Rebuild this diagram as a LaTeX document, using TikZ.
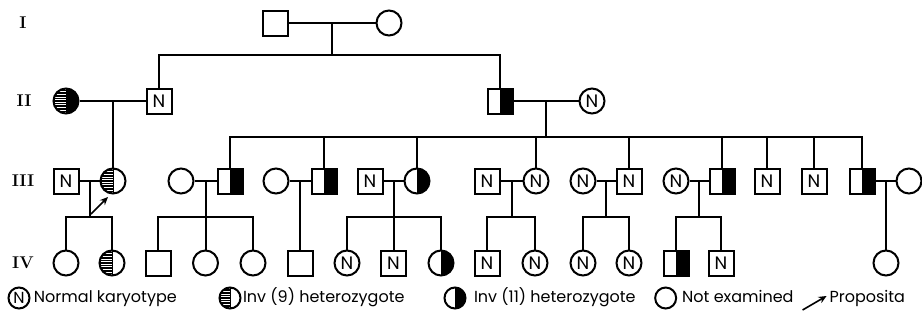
\documentclass[tikz,border=0pt]{standalone}
\usepackage{fontspec}
\setsansfont{Poppins}
\usetikzlibrary{calc,arrows.meta,positioning}
\newcommand{\nfont}{\fontsize{18}{18}\selectfont\sffamily}
\newcommand{\keyfont}{\fontsize{16}{19}\selectfont\sffamily}
\newcommand{\fillright}{%
  \fill (path picture bounding box.north) rectangle (path picture bounding box.south east);}
\newcommand{\hatchleft}{%
  \draw[line width=1pt] (path picture bounding box.north) -- (path picture bounding box.south);
  \foreach \k in {-6,...,6}
    \draw[line width=1.5pt] ([yshift=\k*2.6pt]path picture bounding box.west)
      -- ([yshift=\k*2.6pt]path picture bounding box.center);}
\tikzset{
  male/.style={draw, rectangle, minimum size=25pt, inner sep=0pt, font=\nfont},
  female/.style={draw, circle, minimum size=25pt, inner sep=0pt, font=\nfont},
  keysym/.style={minimum size=21pt, font=\fontsize{16}{16}\selectfont\sffamily},
  invxi/.style={path picture={\fillright}},
  invix/.style={path picture={\hatchleft}},
  invboth/.style={path picture={\hatchleft\fillright}},
  gen/.style={font=\fontsize{17}{17}\selectfont\bfseries},
  keytext/.style={anchor=west, inner sep=0pt, text height=11.5pt, text depth=3.5pt, font=\keyfont},
  pointer/.style={-{Stealth[length=8pt,width=7pt]}, line width=1.6pt}
}
\begin{document}
\begin{tikzpicture}[x=1pt, y=-1pt, line width=2pt]
  \useasboundingbox (0,0) rectangle (922,322);
  % generations
  \draw
    (23,23) node[gen] (gI) {I}
    (24,101) node[gen] (gII) {II}
    (23,181) node[gen] (gIII) {III}
    (23,263) node[gen] (gIV) {IV};
  % generation I and II
  \draw
    (275,23) node[male] (i1) {}
    (389,23) node[female] (i2) {}
    (66,101) node[female, invboth] (ii1) {}
    (159,101) node[male] (ii2) {N}
    (500,101) node[male, invxi] (ii3) {}
    (592,101) node[female] (ii4) {N};
  % generation III
  \draw
    (66,181) node[male] (iii1) {N}
    (113,181) node[female, invix] (iii2) {}
    (181,181) node[female] (iii3) {}
    (230,181) node[male, invxi] (iii4) {}
    (276,181) node[female] (iii5) {}
    (324,181) node[male, invxi] (iii6) {}
    (370,181) node[male] (iii7) {N}
    (417,181) node[female, invxi] (iii8) {}
    (487,181) node[male] (iii9) {N}
    (536,181) node[female] (iii10) {N}
    (583,181) node[female] (iii11) {N}
    (629,181) node[male] (iii12) {N}
    (676,181) node[female] (iii13) {N}
    (722,181) node[male, invxi] (iii14) {}
    (767,181) node[male] (iii15) {N}
    (814,181) node[male] (iii16) {N}
    (862,181) node[male, invxi] (iii17) {}
    (909,181) node[female] (iii18) {};
  % generation IV
  \draw
    (66,263) node[female] (iv1) {}
    (112,263) node[female, invix] (iv2) {}
    (158,263) node[male] (iv3) {}
    (205.5,263) node[female] (iv4) {}
    (253,263) node[female] (iv5) {}
    (300,263) node[male] (iv6) {}
    (347,263) node[female] (iv7) {N}
    (393.5,263) node[male] (iv8) {N}
    (441,263) node[female, invxi] (iv9) {}
    (487,263) node[male] (iv10) {N}
    (535,263) node[female] (iv11) {N}
    (583,263) node[female] (iv12) {N}
    (629,263) node[female] (iv13) {N}
    (676,263) node[male, invxi] (iv14) {}
    (721,263) node[male] (iv15) {N}
    (886,263) node[female] (iv16) {};
  \coordinate (l2) at (0,55);
  \coordinate (l3) at (0,137);
  \coordinate (l4) at (0,217);
  \coordinate (mi) at ($(i1)!0.5!(i2)$);
  \coordinate (mii1) at ($(ii1)!0.5!(ii2)$);
  \coordinate (mii2) at ($(ii3)!0.5!(ii4)$);
  \coordinate (m1) at ($(iii1)!0.5!(iii2)$);
  \coordinate (m2) at ($(iii3)!0.5!(iii4)$);
  \coordinate (m3) at ($(iii5)!0.5!(iii6)$);
  \coordinate (m4) at ($(iii7)!0.5!(iii8)$);
  \coordinate (m5) at ($(iii9)!0.5!(iii10)$);
  \coordinate (m6) at ($(iii11)!0.5!(iii12)$);
  \coordinate (m7) at ($(iii13)!0.5!(iii14)$);
  \coordinate (m8) at ($(iii17)!0.5!(iii18)$);
  \begin{scope}[-]
    \draw (i1) -- (i2);
    \draw (mi) -- (mi |- l2);
    \draw (ii2) |- (mi |- l2) -| (ii3);
    \draw (ii1) -- (ii2);
    \draw (iii2) |- (mii1);
    \draw (ii3) -- (ii4);
    \draw (mii2) -- (mii2 |- l3);
    \draw (iii4) |- (mii2 |- l3) -| (iii17);
    \foreach \c in {iii6,iii8,iii10,iii12,iii14,iii15,iii16}
      \draw (\c) -- (\c |- l3);
    \draw (iii1) -- (iii2);
    \draw (m1) -- (m1 |- l4);
    \draw (iv1) |- (m1 |- l4) -| (iv2);
    \draw (iii3) -- (iii4);
    \draw (m2) -- (m2 |- l4);
    \draw (iv3) |- (m2 |- l4) -| (iv5);
    \draw (iv4) -- (iv4 |- l4);
    \draw (iii5) -- (iii6);
    \draw (iv6) |- (m3);
    \draw (iii7) -- (iii8);
    \draw (m4) -- (m4 |- l4);
    \draw (iv7) |- (m4 |- l4) -| (iv9);
    \draw (iv8) -- (iv8 |- l4);
    \draw (iii9) -- (iii10);
    \draw (m5) -- (m5 |- l4);
    \draw (iv10) |- (m5 |- l4) -| (iv11);
    \draw (iii11) -- (iii12);
    \draw (m6) -- (m6 |- l4);
    \draw (iv12) |- (m6 |- l4) -| (iv13);
    \draw (iii13) -- (iii14);
    \draw (m7) -- (m7 |- l4);
    \draw (iv14) |- (m7 |- l4) -| (iv15);
    \draw (iii17) -- (iii18);
    \draw (iv16) |- (m8);
  \end{scope}
  % proposita
  \coordinate (pa) at (91,214);
  \coordinate (pb) at (108,197);
  \draw[pointer] (pa) -- (pb);
  % key
  \draw
    (19,298) node[female, keysym] (k1) {N}
    (33,298) node[keytext] (t1) {Normal karyotype}
    (230,298) node[female, keysym, invix] (k2) {}
    (242,298) node[keytext] (t2) {Inv (9) heterozygote}
    (455,298) node[female, keysym, invxi] (k3) {}
    (473,298) node[keytext] (t3) {Inv (11) heterozygote}
    (906,298) node[keytext, anchor=east] (t5) {Proposita};
  \coordinate (kb) at ([xshift=-2pt, yshift=2pt]t5.west);
  \coordinate (ka) at ([xshift=-24pt, yshift=-14pt]kb);
  \node[keytext, anchor=east] (t4) at ([xshift=-8pt]ka |- t5) {Not examined};
  \node[female, keysym, left=4pt of t4] (k4) {};
  \draw[pointer] (ka) -- (kb);
\end{tikzpicture}
\end{document}
